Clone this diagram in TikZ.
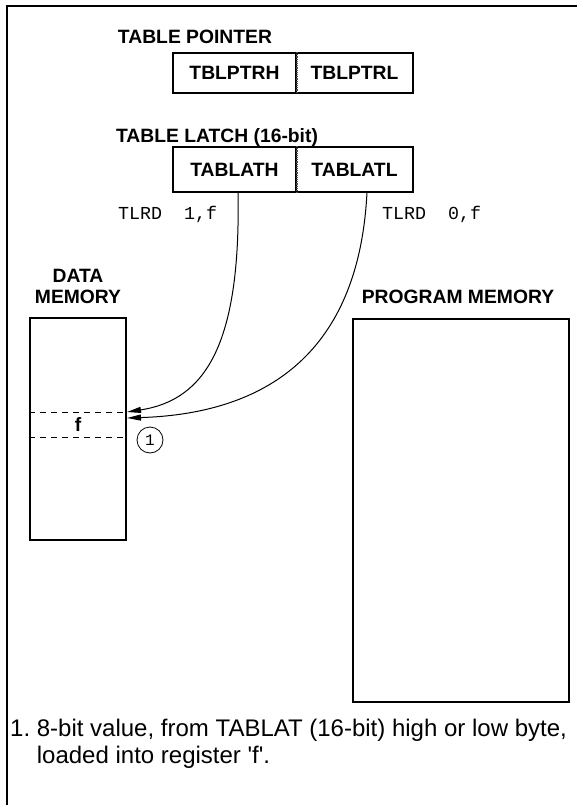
\documentclass[tikz,border=0pt]{standalone}
\usepackage{fontspec}
\setmainfont{Liberation Sans}[Ligatures=TeXOff]
\setmonofont{Liberation Mono}
\usetikzlibrary{arrows.meta, positioning, calc}
\tikzset{
  regbox/.style ={rectangle, draw=black, line width=1.8pt, minimum width=123pt, minimum height=42pt,
                  inner sep=0pt, font=\fontsize{19.3}{21}\selectfont\bfseries},
  reglbl/.style ={font=\fontsize{19.3}{21.5}\selectfont\bfseries, inner sep=0pt, align=center},
  memblock/.style={rectangle, draw=black, line width=1.8pt, inner sep=0pt},
  asmlbl/.style ={font=\fontsize{18.3}{20}\selectfont\ttfamily, inner sep=0pt, anchor=west},
  rdarr/.style  ={-{Triangle[length=14pt, width=6pt]}, line width=1pt, color=black},
  divline/.style={densely dotted, line width=1.2pt, color=black!70},
  rowline/.style={dashed, dash pattern=on 6pt off 5pt, line width=1.2pt},
  noteball/.style={circle, draw=black, line width=0.8pt, minimum size=26pt, inner sep=0pt,
                   font=\fontsize{16}{18}\selectfont\ttfamily},
  notetext/.style={font=\fontsize{24}{27}\selectfont, align=left, inner sep=0pt},
  frameline/.style={line width=2pt, line cap=rect},
}
\begin{document}
\begin{tikzpicture}[x=1pt, y=-1pt]
  \useasboundingbox (0,0) rectangle (577,805);
  \draw[frameline] (7,805) -- (7,6) -- (577,6);
  % table pointer
  \node[reglbl] (ptrlbl) at (195,37) {TABLE POINTER};
  \node[regbox, minimum height=40pt] (ptrh) at (234.5,73) {TBLPTRH};
  \node[regbox, minimum height=40pt, minimum width=117pt] (ptrl) at (354.5,73) {TBLPTRL};
  \draw[divline] (ptrh.north east) -- (ptrh.south east);
  % table latch
  \node[reglbl] (latlbl) at (217,138) {TABLE LATCH (16-bit)};
  \node[regbox, minimum height=45pt] (lath) at (234.5,169.5) {TABLATH};
  \node[regbox, minimum height=45pt, minimum width=117pt] (latl) at (354.5,169.5) {TABLATL};
  \draw[divline] (lath.north east) -- (lath.south east);
  % instructions
  \node[asmlbl] (rd1) at (118,214) {TLRD\ \ 1,f};
  \node[asmlbl] (rd0) at (382,214) {TLRD\ \ 0,f};
  % data memory
  \node[reglbl] (datalbl) at (78,286.5) {DATA\\MEMORY};
  \node[memblock, minimum width=96pt, minimum height=222pt] (datamem) at (78,429) {};
  \coordinate (fhi) at ($(datamem.north west)+(0,95)$);
  \coordinate (flo) at ($(datamem.north west)+(0,120)$);
  \draw[rowline] (fhi) -- ++(96,0);
  \draw[rowline] (flo) -- ++(96,0);
  \node[font=\fontsize{19.3}{21}\selectfont\bfseries, inner sep=0pt] (freg) at (78,425) {f};
  \node[noteball] (note1) at (150,440) {1};
  % program memory
  \node[reglbl] (proglbl) at (458,297) {PROGRAM MEMORY};
  \node[memblock, minimum width=216pt, minimum height=383pt] (progmem) at (461,510.5) {};
  % reads
  \coordinate (tipa) at (127,412);
  \coordinate (tipb) at (127,418);
  \draw[rdarr] (238,192) .. controls (241,345) and (205,400) .. (tipa);
  \draw[rdarr] (367,192) .. controls (360,335) and (285,413) .. (tipb);
  % note
  \node[notetext, anchor=base west] (note) at (10,763)
    {1.\ 8-bit value, from TABLAT (16-bit) high or low byte,\\\phantom{1.\ }loaded into register 'f'.};
\end{tikzpicture}
\end{document}
